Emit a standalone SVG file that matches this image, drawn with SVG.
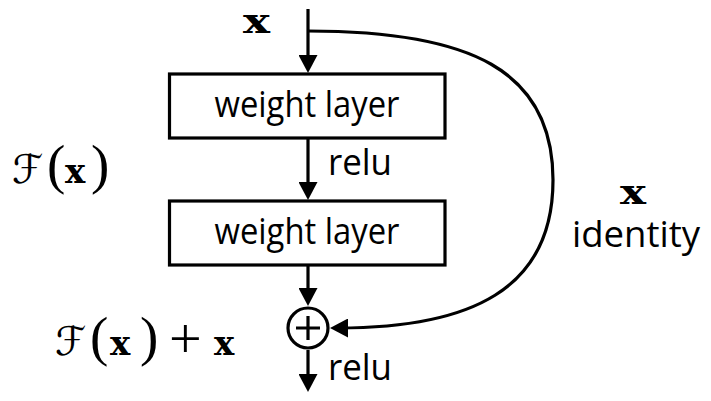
<svg xmlns="http://www.w3.org/2000/svg" width="711" height="401" viewBox="0 0 711 401">
  <style>
    .box { fill: #ffffff; stroke: #000000; stroke-width: 3.2; }
    .edge { fill: none; stroke: #000000; stroke-width: 3.2; }
    .lbl { font-family: "Open Sans", "Noto Sans", sans-serif; font-size: 36px; fill: #000000; }
    .mx { font-family: "DejaVu Serif", "Liberation Serif", serif; font-weight: bold; font-size: 34px; fill: #000000; }
    .mr { font-family: "Liberation Serif", "DejaVu Serif", serif; font-size: 55px; fill: #000000; }
    .mp { font-family: "Liberation Serif", "DejaVu Serif", serif; font-size: 58px; fill: #000000; }
    .mf { font-family: "DejaVu Serif", "DejaVu Sans", serif; font-style: italic; font-size: 40px; fill: #000000; }
  </style>
  <defs>
    <marker id="arr" viewBox="0 0 18 19" refX="10" refY="9.5" markerWidth="18" markerHeight="19" markerUnits="userSpaceOnUse" orient="auto">
      <path d="M0,0 L18,9.5 L0,19 Z" fill="#000000"/>
    </marker>
  </defs>

  <g id="connectors">
    <path class="edge" d="M308,9 L308,65" marker-end="url(#arr)"/>
    <path class="edge" d="M308,138 L308,192" marker-end="url(#arr)"/>
    <path class="edge" d="M308,265 L308,298" marker-end="url(#arr)"/>
    <path class="edge" d="M308,350 L308,384" marker-end="url(#arr)"/>
    <path class="edge" d="M308,31 C470,31 553,70 553,180 C553,290 470,328 338,328" marker-end="url(#arr)"/>
  </g>

  <g id="node-weight1">
    <rect class="box" x="169.5" y="74" width="275.5" height="64"/>
    <text class="lbl" x="307" y="117" text-anchor="middle" textLength="185" lengthAdjust="spacingAndGlyphs">weight layer</text>
  </g>

  <g id="node-weight2">
    <rect class="box" x="169.5" y="201" width="275.5" height="64"/>
    <text class="lbl" x="307" y="244" text-anchor="middle" textLength="185" lengthAdjust="spacingAndGlyphs">weight layer</text>
  </g>

  <g id="node-add">
    <circle class="box" cx="308" cy="328" r="20"/>
    <path class="edge" d="M296,328 L320,328 M308,316 L308,340"/>
  </g>

  <g id="labels">
    <text class="mx" x="243" y="33" textLength="27" lengthAdjust="spacingAndGlyphs">x</text>
    <text class="lbl" x="328" y="175" textLength="64" lengthAdjust="spacingAndGlyphs">relu</text>
    <text class="lbl" x="328" y="380" textLength="64" lengthAdjust="spacingAndGlyphs">relu</text>
    <text class="mx" x="620" y="204" textLength="26" lengthAdjust="spacingAndGlyphs">x</text>
    <text class="lbl" x="572" y="247" textLength="128" lengthAdjust="spacingAndGlyphs">identity</text>
    <text><tspan class="mf" x="12" y="183">ℱ</tspan><tspan class="mr" x="47" y="183">(</tspan><tspan class="mx" x="65" y="183">x</tspan><tspan class="mr" x="91" y="183">)</tspan></text>
    <text><tspan class="mf" x="55" y="355">ℱ</tspan><tspan class="mr" x="90" y="355">(</tspan><tspan class="mx" x="110" y="355">x</tspan><tspan class="mr" x="140" y="355">)</tspan><tspan class="mp" x="169" y="358">+</tspan><tspan class="mx" x="214" y="355">x</tspan></text>
  </g>
</svg>
